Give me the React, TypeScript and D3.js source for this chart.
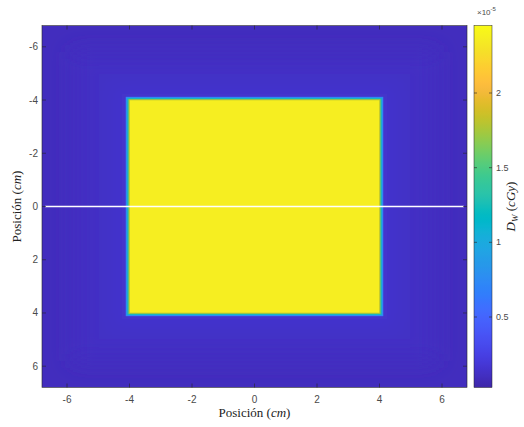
import React from "react";
import * as d3 from "d3";

const W = 524;
const H = 427;

// Axis ticks (cm) and colour-bar ticks (×1e-5 cGy)
const xTicks = [-6, -4, -2, 0, 2, 4, 6];
const yTicks = [-6, -4, -2, 0, 2, 4, 6];
const axisExtent = [-6.8, 6.8];
const cbTicks = [0.5, 1, 1.5, 2];
const cbDomain = [0.028, 2.452];

// Dose map as nested centred squares: half-width (cm) and dose (×1e-5 cGy)
const scatterHalf = [6.8, 5.8, 5.0, 4.5, 4.25];
const scatterDose = [0.1, 0.115, 0.13, 0.145, 0.16];
const fieldHalf = [4.12, 4.07, 4.03, 3.99];
const fieldDose = [0.75, 1.25, 1.8, 2.37];

// Profile line along y = 0
const profileX = [-6.7, 6.7];
const profileY = [0, 0];

// parula colormap (64 entries)
const parula = [
  "#3e26a8", "#402ab4", "#422ec0", "#4332cb", "#4537d5", "#463cde", "#4741e5", "#4747eb",
  "#484df0", "#4852f4", "#4758f8", "#465efb", "#4563fd", "#4269fe", "#3e6fff", "#3875fe",
  "#327cfc", "#2f81fa", "#2e87f7", "#2d8cf3", "#2b91ef", "#2797eb", "#259be8", "#23a0e5",
  "#20a5e3", "#1ca9df", "#18addb", "#12b1d6", "#08b5d0", "#01b8ca", "#02bac3", "#0bbdbd",
  "#19bfb6", "#24c1ae", "#2cc4a7", "#31c69f", "#37c897", "#3fca8e", "#4acb84", "#57cc7a",
  "#64cd6f", "#72cd64", "#81cc59", "#8fcb4e", "#9dc943", "#abc739", "#b9c431", "#c5c22a",
  "#d1bf27", "#dcbd29", "#e6bb2d", "#f0ba36", "#f8ba3d", "#febe3c", "#fec338", "#fec934",
  "#fccf30", "#fad62d", "#f7dc2a", "#f5e327", "#f5e924", "#f6ef20", "#f7f51b", "#f9fb15",
];

const margin = { left: 42, right: 467, top: 25.5, bottom: 387.5 };
const cb = { x0: 474, x1: 492 };

export default function App() {
  const x = d3.scaleLinear().domain(axisExtent).range([margin.left, margin.right]);
  const y = d3.scaleLinear().domain(axisExtent).range([margin.top, margin.bottom]);
  const interp = d3.piecewise(d3.interpolateRgb, parula);
  const color = d3.scaleSequential(interp).domain(cbDomain).clamp(true);
  const cbY = d3.scaleLinear().domain(cbDomain).range([margin.bottom, margin.top]);

  const square = (h: number) => ({
    x: x(-h),
    y: y(-h),
    width: x(h) - x(-h),
    height: y(h) - y(-h),
  });

  const line = d3
    .line<number>()
    .x((d) => x(d))
    .y((_, i) => y(profileY[i]));

  const cbSteps = d3.range(0, 200).map((i) => cbDomain[0] + ((cbDomain[1] - cbDomain[0]) * i) / 199);
  const tickColor = "#262626";
  const labelColor = "#4a4a4a";
  const sans = "'Liberation Sans', Arial, sans-serif";
  const serif = "'Liberation Serif', 'Times New Roman', serif";

  return (
    <svg
      width={W}
      height={H}
      style={{ position: "absolute", left: 0, top: 0, background: "#fff" }}
    >
      <defs>
        <clipPath id="plotClip">
          <rect
            x={margin.left}
            y={margin.top}
            width={margin.right - margin.left}
            height={margin.bottom - margin.top}
          />
        </clipPath>
        <filter id="haze" x="-20%" y="-20%" width="140%" height="140%">
          <feGaussianBlur stdDeviation="10" />
        </filter>
        <linearGradient id="cbGrad" x1="0" y1="1" x2="0" y2="0">
          {cbSteps.map((v, i) => (
            <stop key={i} offset={`${(i / 199) * 100}%`} stopColor={color(v)} />
          ))}
        </linearGradient>
      </defs>

      {/* dose map */}
      <g clipPath="url(#plotClip)">
        <rect {...square(scatterHalf[0])} fill={color(scatterDose[0])} />
        <g filter="url(#haze)">
          {scatterHalf.slice(1).map((h, i) => (
            <rect key={i} {...square(h)} fill={color(scatterDose[i + 1])} />
          ))}
        </g>
        {fieldHalf.map((h, i) => (
          <rect key={i} {...square(h)} fill={color(fieldDose[i])} />
        ))}
        <path
          d={line(profileX) || ""}
          stroke="#ffffff"
          strokeWidth={1.6}
          fill="none"
        />
      </g>

      {/* axes box and ticks */}
      <rect
        x={margin.left}
        y={margin.top}
        width={margin.right - margin.left}
        height={margin.bottom - margin.top}
        fill="none"
        stroke={tickColor}
        strokeWidth={0.6}
      />
      {xTicks.map((t) => (
        <g key={`xt${t}`}>
          <line x1={x(t)} x2={x(t)} y1={margin.bottom} y2={margin.bottom - 4} stroke={tickColor} strokeWidth={0.6} />
          <line x1={x(t)} x2={x(t)} y1={margin.top} y2={margin.top + 4} stroke={tickColor} strokeWidth={0.6} />
          <text
            x={x(t)}
            y={margin.bottom + 15}
            textAnchor="middle"
            fontFamily={sans}
            fontSize={10}
            fill={labelColor}
          >
            {t}
          </text>
        </g>
      ))}
      {yTicks.map((t) => (
        <g key={`yt${t}`}>
          <line x1={margin.left} x2={margin.left + 4} y1={y(t)} y2={y(t)} stroke={tickColor} strokeWidth={0.6} />
          <line x1={margin.right} x2={margin.right - 4} y1={y(t)} y2={y(t)} stroke={tickColor} strokeWidth={0.6} />
          <text
            x={margin.left - 4}
            y={y(t)}
            dy="0.35em"
            textAnchor="end"
            fontFamily={sans}
            fontSize={10}
            fill={labelColor}
          >
            {t}
          </text>
        </g>
      ))}

      {/* axis titles */}
      <text
        x={(margin.left + margin.right) / 2}
        y={417}
        textAnchor="middle"
        fontFamily={serif}
        fontSize={13}
        fill="#222"
      >
        Posición (<tspan fontStyle="italic">cm</tspan>)
      </text>
      <text
        transform={`translate(21,${(margin.top + margin.bottom) / 2}) rotate(-90)`}
        textAnchor="middle"
        fontFamily={serif}
        fontSize={13}
        fill="#222"
      >
        Posición (<tspan fontStyle="italic">cm</tspan>)
      </text>

      {/* colour bar */}
      <rect
        x={cb.x0}
        y={margin.top}
        width={cb.x1 - cb.x0}
        height={margin.bottom - margin.top}
        fill="url(#cbGrad)"
        stroke={tickColor}
        strokeWidth={0.5}
      />
      {cbTicks.map((t) => (
        <g key={`cb${t}`}>
          <line x1={cb.x1} x2={cb.x1 - 3} y1={cbY(t)} y2={cbY(t)} stroke={tickColor} strokeWidth={0.6} />
          <line x1={cb.x0} x2={cb.x0 + 3} y1={cbY(t)} y2={cbY(t)} stroke={tickColor} strokeWidth={0.6} />
          <text
            x={cb.x1 + 4}
            y={cbY(t)}
            dy="0.35em"
            fontFamily={sans}
            fontSize={9}
            fill={labelColor}
          >
            {t}
          </text>
        </g>
      ))}
      <text x={477} y={15} fontFamily={sans} fontSize={8} fill={labelColor}>
        ×10
        <tspan dy={-4} fontSize={6}>
          -5
        </tspan>
      </text>
      <text
        transform={`translate(515,${(margin.top + margin.bottom) / 2}) rotate(-90)`}
        textAnchor="middle"
        fontFamily={serif}
        fontSize={13}
        fill="#222"
      >
        <tspan fontStyle="italic">D</tspan>
        <tspan fontStyle="italic" fontSize={9} dy={3}>
          W
        </tspan>
        <tspan dy={-3}> (</tspan>
        <tspan fontStyle="italic">cGy</tspan>)
      </text>
    </svg>
  );
}
